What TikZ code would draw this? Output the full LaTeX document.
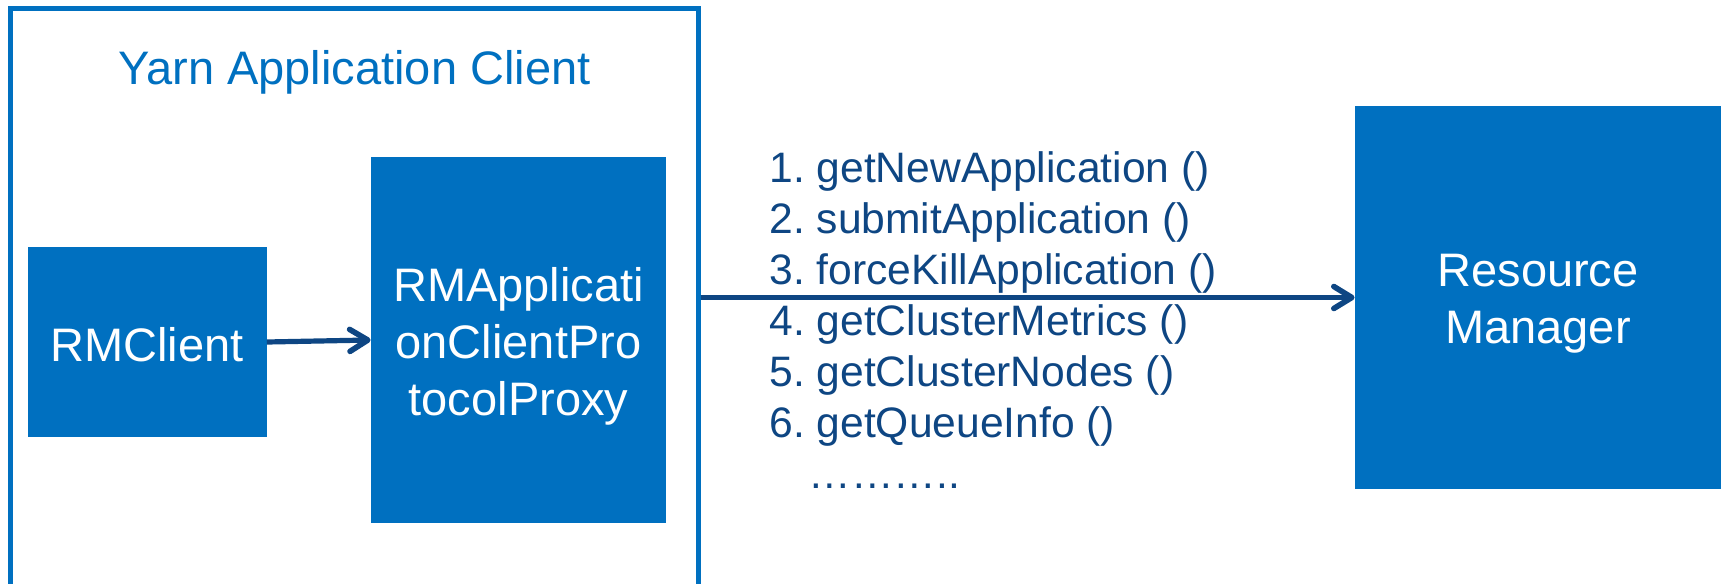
\documentclass[tikz,border=0pt]{standalone}
\usepackage{fontspec}
\setmainfont{Liberation Sans}
\usetikzlibrary{arrows.meta}
\definecolor{boxblue}{HTML}{0070C0}
\definecolor{navy}{HTML}{0E4683}
\frenchspacing
\tikzset{
  bluebox/.style={draw=none, fill=boxblue, text=white, align=center, inner sep=0pt,
    text depth=0pt, font=\fontsize{23.5}{28.3}\selectfont},
  frame/.style={draw=boxblue, line width=2.5pt, inner sep=0pt},
  callarrow/.style={draw=navy, line width=2.6pt,
    -{Straight Barb[length=9pt,width=11pt,line width=2.8pt,round]}}
}
\begin{document}
\begin{tikzpicture}[x=0.5pt, y=-0.5pt]
  \useasboundingbox (0,0) rectangle (1727,583);
  \clip (0,0) rectangle (1727,583);
  % client frame (runs past the bottom edge)
  \node[frame, minimum width=343.75pt, minimum height=296pt] (client) at (354.25,305) {};
  \node[anchor=base, text=boxblue, font=\fontsize{23.5}{28}\selectfont] (title) at (354.5,84) {Yarn Application Client};
  % components
  \node[bluebox, text height=19pt, minimum width=119.5pt, minimum height=95pt] (rmc) at (147,342) {RMClient};
  \node[bluebox, text height=75pt, minimum width=147.5pt, minimum height=183pt] (proxy) at (518.5,340) {RMApplicati\\onClientPro\\tocolProxy};
  \node[bluebox, text height=45.5pt, minimum width=183pt, minimum height=191.5pt] (rm) at (1538,297.5) {Resource\\Manager};
  % protocol calls
  \node[anchor=base west, align=left, inner sep=0pt, text=navy, font=\fontsize{21.3}{25.5}\selectfont] (calls) at (769,488)
    {1. getNewApplication ()\\2. submitApplication ()\\3. forceKillApplication ()\\4. getClusterMetrics ()\\5. getClusterNodes ()\\6. getQueueInfo ()\\\hspace*{19.5pt}………..};
  % connectors
  \draw[callarrow] (rmc.east) -- (proxy.west);
  \draw[callarrow] (rm.west -| client.east) -- (rm.west);
\end{tikzpicture}
\end{document}
